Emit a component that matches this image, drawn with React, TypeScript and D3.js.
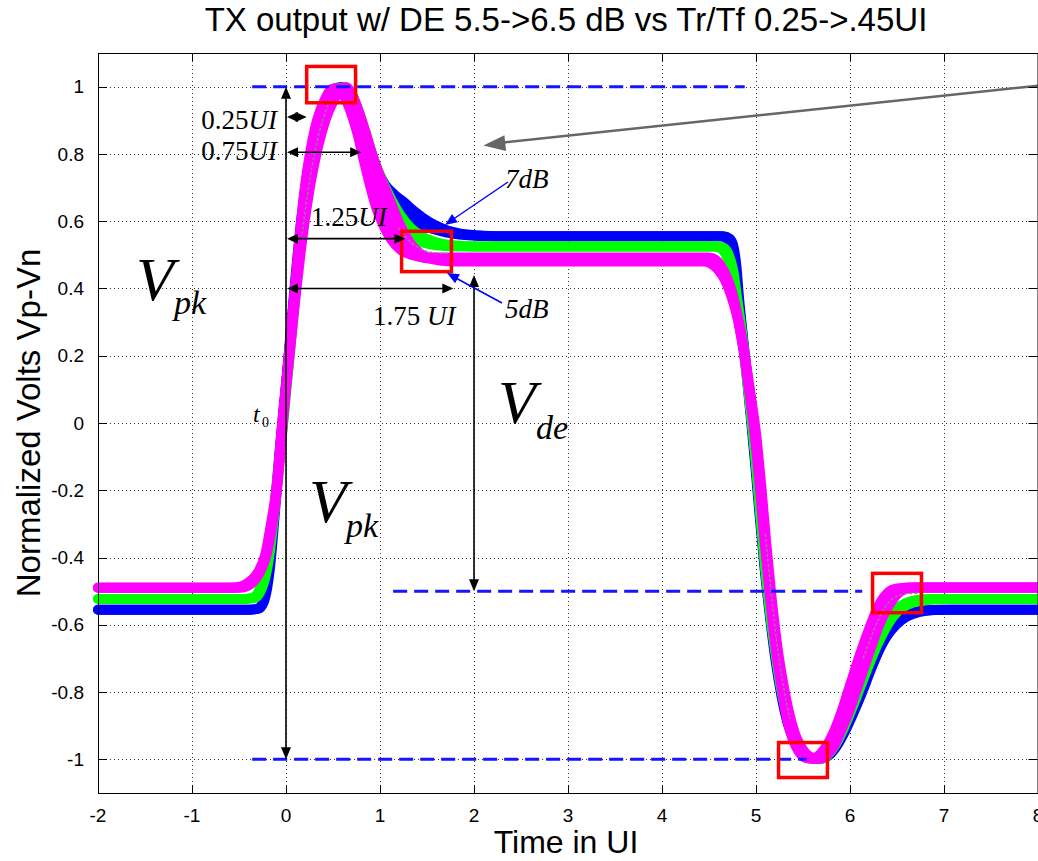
import React from "react";
import * as d3 from "d3";

const W = 1038;
const H = 861;

// axis domains and ticks
const xDomain = [-2, 8];
const yDomain = [-1.1, 1.1];
const xTicks = [-2, -1, 0, 1, 2, 3, 4, 5, 6, 7, 8];
const xTickLabels = ["-2", "-1", "0", "1", "2", "3", "4", "5", "6", "7", "8"];
const yTicks = [-1, -0.8, -0.6, -0.4, -0.2, 0, 0.2, 0.4, 0.6, 0.8, 1];
const yTickLabels = ["-1", "-0.8", "-0.6", "-0.4", "-0.2", "0", "0.2", "0.4", "0.6", "0.8", "1"];

// waveforms [time UI, normalized volts]
const blueA = [[-2,-0.555],[-0.38,-0.555],[-0.29,-0.552],[-0.24,-0.535],[-0.2,-0.49],[-0.17,-0.43],[-0.14,-0.34],[-0.105,-0.22],[-0.065,-0.09],[-0.015,0.06],[0.04,0.24],[0.1,0.43],[0.16,0.6],[0.22,0.73],[0.29,0.84],[0.36,0.92],[0.44,0.97],[0.52,0.995],[0.59,0.998],[0.66,0.975],[0.73,0.93],[0.8,0.87],[0.87,0.8],[0.95,0.74],[1.04,0.69],[1.14,0.655],[1.25,0.625],[1.38,0.6],[1.53,0.58],[1.7,0.567],[1.9,0.559],[2.2,0.555],[4.62,0.555],[4.68,0.55],[4.73,0.53],[4.77,0.48],[4.8,0.4],[4.84,0.3],[4.89,0.17],[4.94,0.03],[4.99,-0.12],[5.04,-0.28],[5.09,-0.43],[5.15,-0.58],[5.21,-0.71],[5.27,-0.81],[5.34,-0.895],[5.42,-0.95],[5.5,-0.983],[5.58,-0.997],[5.68,-0.998],[5.78,-0.985],[5.86,-0.955],[5.94,-0.91],[6.03,-0.855],[6.12,-0.795],[6.21,-0.735],[6.3,-0.68],[6.39,-0.635],[6.49,-0.6],[6.6,-0.576],[6.73,-0.562],[6.9,-0.556],[7.1,-0.555],[8,-0.555]];
const blueB = [[-2,-0.555],[-0.4,-0.555],[-0.3,-0.552],[-0.25,-0.535],[-0.21,-0.49],[-0.18,-0.43],[-0.15,-0.34],[-0.11,-0.22],[-0.07,-0.09],[-0.02,0.06],[0.04,0.23],[0.1,0.41],[0.17,0.58],[0.24,0.72],[0.31,0.82],[0.39,0.91],[0.47,0.965],[0.55,0.995],[0.62,0.998],[0.69,0.978],[0.76,0.93],[0.83,0.87],[0.9,0.81],[0.97,0.755],[1.05,0.71],[1.15,0.68],[1.26,0.655],[1.38,0.626],[1.52,0.598],[1.68,0.576],[1.86,0.563],[2.1,0.557],[2.4,0.555],[4.66,0.555],[4.72,0.548],[4.76,0.525],[4.79,0.47],[4.82,0.37],[4.86,0.26],[4.91,0.13],[4.96,-0.01],[5.01,-0.16],[5.06,-0.32],[5.11,-0.46],[5.17,-0.6],[5.23,-0.72],[5.29,-0.82],[5.36,-0.9],[5.44,-0.955],[5.53,-0.988],[5.62,-0.998],[5.7,-0.997],[5.78,-0.987],[5.86,-0.96],[5.95,-0.915],[6.04,-0.86],[6.13,-0.8],[6.22,-0.735],[6.31,-0.675],[6.4,-0.625],[6.5,-0.59],[6.62,-0.568],[6.76,-0.558],[6.95,-0.555],[8,-0.555]];
const greenA = [[-2,-0.523],[-0.42,-0.523],[-0.33,-0.52],[-0.27,-0.5],[-0.22,-0.46],[-0.18,-0.4],[-0.14,-0.31],[-0.1,-0.2],[-0.05,-0.06],[0.0,0.09],[0.06,0.27],[0.12,0.46],[0.18,0.62],[0.24,0.74],[0.31,0.85],[0.38,0.92],[0.46,0.97],[0.54,0.995],[0.62,0.995],[0.69,0.965],[0.76,0.91],[0.82,0.855],[0.88,0.79],[0.95,0.715],[1.02,0.66],[1.1,0.615],[1.2,0.577],[1.31,0.552],[1.45,0.537],[1.62,0.528],[1.85,0.525],[4.55,0.525],[4.62,0.52],[4.68,0.5],[4.73,0.46],[4.78,0.39],[4.83,0.3],[4.88,0.19],[4.93,0.07],[4.98,-0.06],[5.03,-0.22],[5.08,-0.38],[5.14,-0.54],[5.2,-0.67],[5.26,-0.78],[5.33,-0.87],[5.4,-0.935],[5.48,-0.975],[5.56,-0.995],[5.64,-0.998],[5.73,-0.985],[5.81,-0.955],[5.89,-0.91],[5.97,-0.855],[6.05,-0.795],[6.13,-0.735],[6.21,-0.68],[6.3,-0.628],[6.39,-0.585],[6.48,-0.555],[6.58,-0.537],[6.7,-0.527],[6.85,-0.523],[8,-0.523]];
const greenB = [[-2,-0.523],[-0.46,-0.523],[-0.36,-0.52],[-0.29,-0.5],[-0.24,-0.46],[-0.19,-0.4],[-0.15,-0.31],[-0.1,-0.19],[-0.05,-0.05],[0.01,0.12],[0.08,0.32],[0.15,0.52],[0.22,0.67],[0.3,0.8],[0.38,0.895],[0.46,0.955],[0.55,0.99],[0.63,0.998],[0.7,0.978],[0.77,0.93],[0.84,0.87],[0.91,0.805],[0.98,0.75],[1.05,0.705],[1.13,0.66],[1.22,0.617],[1.32,0.582],[1.44,0.555],[1.58,0.539],[1.75,0.529],[2.0,0.525],[4.6,0.525],[4.66,0.52],[4.71,0.5],[4.76,0.45],[4.8,0.37],[4.85,0.27],[4.9,0.15],[4.95,0.02],[5.0,-0.12],[5.05,-0.28],[5.1,-0.43],[5.16,-0.58],[5.22,-0.7],[5.28,-0.8],[5.35,-0.885],[5.43,-0.945],[5.51,-0.98],[5.6,-0.996],[5.69,-0.998],[5.77,-0.985],[5.85,-0.955],[5.93,-0.91],[6.02,-0.85],[6.11,-0.785],[6.2,-0.72],[6.29,-0.66],[6.38,-0.61],[6.47,-0.572],[6.57,-0.547],[6.68,-0.533],[6.82,-0.526],[7.0,-0.523],[8,-0.523]];
const magentaA = [[-2,-0.49],[-0.5,-0.49],[-0.42,-0.486],[-0.34,-0.47],[-0.27,-0.44],[-0.21,-0.395],[-0.15,-0.31],[-0.1,-0.21],[-0.04,-0.02],[0.02,0.17],[0.08,0.36],[0.14,0.54],[0.2,0.7],[0.26,0.81],[0.33,0.9],[0.41,0.96],[0.49,0.993],[0.56,0.995],[0.63,0.965],[0.7,0.915],[0.76,0.86],[0.82,0.79],[0.89,0.71],[0.96,0.64],[1.04,0.585],[1.12,0.545],[1.22,0.515],[1.33,0.5],[1.48,0.493],[1.65,0.492],[4.5,0.492],[4.57,0.485],[4.63,0.465],[4.68,0.44],[4.74,0.395],[4.8,0.32],[4.87,0.21],[4.93,0.09],[4.98,-0.02],[5.04,-0.19],[5.09,-0.35],[5.15,-0.52],[5.21,-0.67],[5.27,-0.78],[5.33,-0.88],[5.39,-0.94],[5.45,-0.975],[5.52,-0.995],[5.6,-0.998],[5.68,-0.985],[5.76,-0.955],[5.84,-0.91],[5.92,-0.85],[6.0,-0.78],[6.08,-0.71],[6.16,-0.645],[6.24,-0.585],[6.32,-0.535],[6.4,-0.505],[6.5,-0.492],[6.62,-0.49],[8,-0.49]];
const magentaC = [[-2,-0.49],[-0.55,-0.49],[-0.45,-0.486],[-0.36,-0.47],[-0.28,-0.44],[-0.21,-0.39],[-0.15,-0.3],[-0.1,-0.2],[-0.04,-0.01],[0.02,0.17],[0.09,0.37],[0.16,0.56],[0.23,0.7],[0.3,0.81],[0.38,0.9],[0.46,0.96],[0.54,0.993],[0.62,0.995],[0.69,0.965],[0.76,0.91],[0.82,0.855],[0.88,0.79],[0.95,0.71],[1.02,0.645],[1.1,0.59],[1.19,0.545],[1.29,0.513],[1.4,0.496],[1.55,0.488],[1.75,0.486],[4.47,0.486],[4.55,0.48],[4.62,0.46],[4.68,0.43],[4.75,0.38],[4.81,0.31],[4.88,0.2],[4.94,0.08],[4.99,-0.03],[5.05,-0.2],[5.1,-0.36],[5.16,-0.53],[5.22,-0.67],[5.28,-0.78],[5.34,-0.87],[5.41,-0.935],[5.48,-0.975],[5.56,-0.995],[5.64,-0.998],[5.72,-0.985],[5.8,-0.955],[5.88,-0.91],[5.96,-0.85],[6.04,-0.785],[6.12,-0.715],[6.2,-0.65],[6.28,-0.59],[6.36,-0.54],[6.45,-0.507],[6.55,-0.492],[6.68,-0.488],[8,-0.488]];
const magentaB = [[-2,-0.49],[-0.6,-0.49],[-0.48,-0.486],[-0.38,-0.47],[-0.29,-0.44],[-0.22,-0.39],[-0.16,-0.3],[-0.1,-0.19],[-0.04,0.0],[0.03,0.18],[0.1,0.37],[0.18,0.56],[0.26,0.71],[0.34,0.82],[0.42,0.9],[0.5,0.955],[0.58,0.99],[0.64,0.998],[0.7,0.978],[0.77,0.93],[0.84,0.87],[0.91,0.805],[0.98,0.748],[1.05,0.7],[1.13,0.645],[1.22,0.585],[1.32,0.535],[1.43,0.503],[1.56,0.487],[1.72,0.481],[1.9,0.48],[4.44,0.48],[4.52,0.474],[4.6,0.455],[4.67,0.425],[4.74,0.375],[4.81,0.305],[4.88,0.2],[4.945,0.08],[5.0,-0.03],[5.06,-0.2],[5.11,-0.36],[5.17,-0.53],[5.23,-0.67],[5.29,-0.775],[5.36,-0.87],[5.43,-0.935],[5.51,-0.975],[5.6,-0.995],[5.68,-0.998],[5.76,-0.985],[5.84,-0.955],[5.92,-0.905],[6.0,-0.85],[6.08,-0.785],[6.16,-0.72],[6.24,-0.655],[6.32,-0.595],[6.41,-0.545],[6.5,-0.51],[6.6,-0.493],[6.72,-0.49],[8,-0.49]];

// thin grey traces visible inside the bundles
const greyRise = [[0.17,0.56],[0.24,0.7],[0.31,0.81],[0.39,0.9],[0.47,0.96]];
const greySettle = [[1.2,0.58],[1.28,0.55],[1.37,0.528],[1.47,0.513],[1.6,0.506],[1.72,0.504]];
const greyFall = [[5.1,-0.33],[5.16,-0.5],[5.22,-0.65],[5.29,-0.78],[5.36,-0.88]];
const greyRecover = [[6.14,-0.7],[6.22,-0.64],[6.3,-0.585],[6.39,-0.54],[6.5,-0.515],[6.62,-0.507],[6.74,-0.506]];

const seriesOrder = [
  { name: "7dB slow", color: "#0000ff", points: blueB },
  { name: "7dB fast", color: "#0000ff", points: blueA },
  { name: "6dB slow", color: "#00ff00", points: greenB },
  { name: "6dB fast", color: "#00ff00", points: greenA },
  { name: "5dB slow", color: "#ff00ff", points: magentaB },
  { name: "5dB mid", color: "#ff00ff", points: magentaC },
  { name: "5dB fast", color: "#ff00ff", points: magentaA },
];
const greyTraces = [greyRise, greySettle, greyFall, greyRecover];

// annotation values (data units)
const dashedLevels = [1, -0.5, -1];
const dashedStarts = [-0.36, 1.14, -0.36];
const dashedEnds = [4.88, 6.13, 5.54];
const hArrowLevels = [0.91, 0.805, 0.548, 0.4];
const hArrowEnds = [0.22, 0.8, 1.27, 1.78];
const redBoxT0 = [0.22, 1.23, 5.24, 6.24];
const redBoxT1 = [0.74, 1.76, 5.76, 6.76];
const redBoxV0 = [1.06, 0.57, -0.95, -0.447];
const redBoxV1 = [0.952, 0.45, -1.054, -0.564];

const sans = "'Liberation Sans', Arial, Helvetica, sans-serif";
const serif = "'Liberation Serif', 'Times New Roman', Times, serif";

function arrowHead(tx: number, ty: number, fx: number, fy: number, len = 12, half = 5) {
  const dx = tx - fx;
  const dy = ty - fy;
  const l = Math.hypot(dx, dy) || 1;
  const ux = dx / l;
  const uy = dy / l;
  const bx = tx - ux * len;
  const by = ty - uy * len;
  const px = -uy * half;
  const py = ux * half;
  return `${tx},${ty} ${bx + px},${by + py} ${bx - px},${by - py}`;
}

export default function App() {
  const x = d3.scaleLinear().domain(xDomain).range([98, 1038]);
  const y = d3.scaleLinear().domain(yDomain).range([793, 53]);
  const line = d3
    .line<number[]>()
    .x((d) => x(d[0]))
    .y((d) => y(d[1]))
    .curve(d3.curveMonotoneX);

  const left = x(xDomain[0]);
  const right = x(xDomain[1]) - 0.5;
  const top = y(yDomain[1]);
  const bottom = y(yDomain[0]);
  const x0 = x(0);

  return (
    <svg
      width={W}
      height={H}
      style={{ position: "absolute", left: 0, top: 0, background: "#fff" }}
    >
      <rect x={0} y={0} width={W} height={H} fill="#fff" />
      {/* grid */}
      <g stroke="#333" strokeWidth={1} strokeDasharray="1 3">
        {xTicks.slice(1, -1).map((t) => (
          <line key={"gx" + t} x1={x(t) + 0.5} x2={x(t) + 0.5} y1={top} y2={bottom} />
        ))}
        {yTicks.map((v) => (
          <line key={"gy" + v} x1={left} x2={right} y1={Math.round(y(v)) + 0.5} y2={Math.round(y(v)) + 0.5} />
        ))}
      </g>

      {/* waveforms */}
      <g fill="none" strokeWidth={10} strokeLinejoin="round" strokeLinecap="round">
        {seriesOrder.map((s) => (
          <path key={s.name} d={line(s.points) || ""} stroke={s.color} />
        ))}
      </g>
      <g fill="none" stroke="#8a8a8a" strokeWidth={1.3} strokeDasharray="3 2">
        {greyTraces.map((g, i) => (
          <path key={"gt" + i} d={line(g) || ""} />
        ))}
      </g>

      {/* blue dashed reference levels */}
      <g stroke="#1515ff" strokeWidth={3} strokeDasharray="14 7">
        {dashedLevels.map((v, i) => (
          <line key={"dl" + i} x1={x(dashedStarts[i])} x2={x(dashedEnds[i])} y1={y(v)} y2={y(v)} />
        ))}
      </g>

      {/* red boxes */}
      <g fill="none" stroke="#ff0000" strokeWidth={3.5}>
        {redBoxT0.map((t, i) => (
          <rect
            key={"rb" + i}
            x={x(t)}
            y={y(redBoxV0[i])}
            width={x(redBoxT1[i]) - x(t)}
            height={y(redBoxV1[i]) - y(redBoxV0[i])}
          />
        ))}
      </g>

      {/* black measurement arrows */}
      <g stroke="#000" strokeWidth={1.6} fill="#000">
        <line x1={x0} x2={x0} y1={y(1) + 10} y2={y(-1) - 10} />
        <polygon points={arrowHead(x0, y(1), x0, y(0))} stroke="none" />
        <polygon points={arrowHead(x0, y(-1), x0, y(0))} stroke="none" />
        <line x1={x(2)} x2={x(2)} y1={y(0.44) + 10} y2={y(-0.5) - 10} />
        <polygon points={arrowHead(x(2), y(0.44), x(2), y(0))} stroke="none" />
        <polygon points={arrowHead(x(2), y(-0.5), x(2), y(0))} stroke="none" />
        {hArrowLevels.map((v, i) => {
          const a = x0 + 1;
          const b = x(hArrowEnds[i]);
          return (
            <g key={"ha" + i}>
              <line x1={a + 8} x2={b - 8} y1={y(v)} y2={y(v)} />
              <polygon points={arrowHead(a, y(v), b, y(v), 11, 5)} stroke="none" />
              <polygon points={arrowHead(b, y(v), a, y(v), 11, 5)} stroke="none" />
            </g>
          );
        })}
      </g>

      {/* gray arrow */}
      <g>
        <line x1={1038} y1={y(1.003)} x2={x(2.1) + 16} y2={y(0.828) - 1.5} stroke="#666" strokeWidth={2.5} />
        <polygon points={arrowHead(x(2.1), y(0.825), 1038, y(1.003), 22, 8)} fill="#666" />
      </g>

      {/* blue dB arrows */}
      <g stroke="#0000ff" strokeWidth={1.5} fill="#0000ff">
        <line x1={508} y1={182} x2={452} y2={220} />
        <polygon points={arrowHead(445, 225, 508, 182, 12, 5)} stroke="none" />
        <line x1={502} y1={303} x2={454} y2={277} />
        <polygon points={arrowHead(447, 273, 502, 303, 12, 5)} stroke="none" />
      </g>

      {/* annotation text */}
      <g fontFamily={serif} fill="#000">
        <text x={277} y={129} fontSize={27} textAnchor="end">
          0.25<tspan fontStyle="italic">UI</tspan>
        </text>
        <text x={277} y={160} fontSize={27} textAnchor="end">
          0.75<tspan fontStyle="italic">UI</tspan>
        </text>
        <text x={311} y={226} fontSize={27}>
          1.25<tspan fontStyle="italic">UI</tspan>
        </text>
        <text x={373} y={325} fontSize={27}>
          1.75 <tspan fontStyle="italic">UI</tspan>
        </text>
        <text x={505} y={188} fontSize={27} fontStyle="italic">7dB</text>
        <text x={505} y={318} fontSize={27} fontStyle="italic">5dB</text>
        <text x={253} y={422} fontSize={24} fontStyle="italic">t</text>
        <text x={262} y={427} fontSize={14}>0</text>
        <text x={136} y={300} fontSize={62} fontStyle="italic">V</text>
        <text x={174} y={314} fontSize={34} fontStyle="italic">pk</text>
        <text x={309} y={522} fontSize={62} fontStyle="italic">V</text>
        <text x={346} y={537} fontSize={34} fontStyle="italic">pk</text>
        <text x={498} y={423} fontSize={62} fontStyle="italic">V</text>
        <text x={536} y={439} fontSize={34} fontStyle="italic">de</text>
      </g>

      {/* axes box and ticks */}
      <g stroke="#000" strokeWidth={1} fill="none">
        <rect x={left + 0.5} y={top + 0.5} width={right - left} height={bottom - top} />
        {xTicks.map((t) => (
          <g key={"xt" + t}>
            <line x1={x(t) + 0.5} x2={x(t) + 0.5} y1={bottom} y2={bottom - 8} />
            <line x1={x(t) + 0.5} x2={x(t) + 0.5} y1={top} y2={top + 8} />
          </g>
        ))}
        {yTicks.map((v) => (
          <g key={"yt" + v}>
            <line x1={left} x2={left + 9} y1={Math.round(y(v)) + 0.5} y2={Math.round(y(v)) + 0.5} />
            <line x1={right} x2={right - 9} y1={Math.round(y(v)) + 0.5} y2={Math.round(y(v)) + 0.5} />
          </g>
        ))}
      </g>

      {/* tick labels */}
      <g fontFamily={sans} fontSize={19} fill="#000">
        {xTicks.map((t, i) => (
          <text key={"xl" + t} x={x(t)} y={822} textAnchor="middle">
            {xTickLabels[i]}
          </text>
        ))}
        {yTicks.map((v, i) => (
          <text key={"yl" + v} x={84} y={y(v)} dy="0.35em" textAnchor="end">
            {yTickLabels[i]}
          </text>
        ))}
      </g>

      {/* titles */}
      <text x={566} y={31} fontFamily={sans} fontSize={33} textAnchor="middle" fill="#000">
        TX output w/ DE 5.5-&gt;6.5 dB vs Tr/Tf 0.25-&gt;.45UI
      </text>
      <text x={566} y={853} fontFamily={sans} fontSize={32} textAnchor="middle" fill="#000">
        Time in UI
      </text>
      <text
        transform={`translate(40,${y(0)}) rotate(-90)`}
        fontFamily={sans}
        fontSize={33}
        textAnchor="middle"
        fill="#000"
      >
        Normalized Volts Vp-Vn
      </text>
    </svg>
  );
}
